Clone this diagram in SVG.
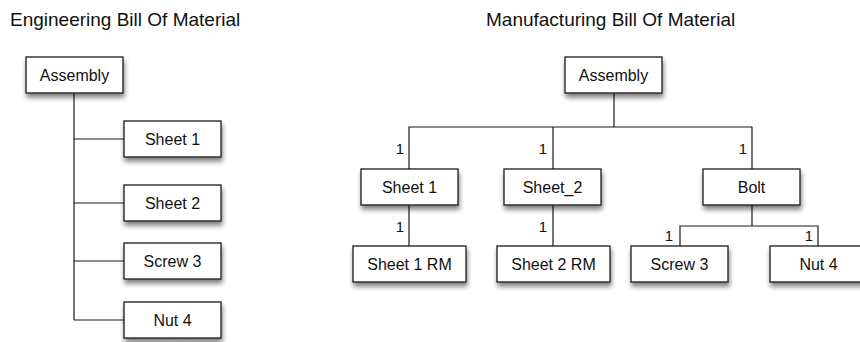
<svg xmlns="http://www.w3.org/2000/svg" width="860" height="342" viewBox="0 0 860 342">
<defs>
<filter id="sh" x="-20%" y="-30%" width="140%" height="170%">
<feGaussianBlur in="SourceAlpha" stdDeviation="2.5"/>
<feOffset dx="1" dy="4" result="b"/>
<feComponentTransfer><feFuncA type="linear" slope="0.5"/></feComponentTransfer>
<feMerge><feMergeNode/><feMergeNode in="SourceGraphic"/></feMerge>
</filter>
<style>
.box{fill:#fff;stroke:#1a1a1a;stroke-width:1.3;filter:url(#sh)}
.lbl{font-family:"Liberation Sans",Arial,sans-serif;font-size:16px;fill:#111;text-anchor:middle}
.title{font-family:"Liberation Sans",Arial,sans-serif;font-size:19px;fill:#111}
.num{font-family:"Liberation Sans",Arial,sans-serif;font-size:15px;fill:#111;text-anchor:end}
.con{fill:none;stroke:#1a1a1a;stroke-width:1.2}
</style>
</defs>
<rect width="860" height="342" fill="#fff"/>
<text class="title" x="10" y="26">Engineering Bill Of Material</text>
<text class="title" x="486" y="26">Manufacturing Bill Of Material</text>

<g id="connectors">
<path class="con" d="M74 93 V320 M74 139 H124 M74 203 H124 M74 261 H124 M74 320 H124"/>
<path class="con" d="M614 93 V127 M409 169 V127 H752 V169 M553 127 V169"/>
<path class="con" d="M409 205 V246 M553 205 V246"/>
<path class="con" d="M752 205 V226 M680 246 V226 H818 V246"/>
<text class="num" x="404" y="154">1</text>
<text class="num" x="547" y="154">1</text>
<text class="num" x="747" y="154">1</text>
<text class="num" x="404" y="232">1</text>
<text class="num" x="547" y="232">1</text>
<text class="num" x="673" y="241">1</text>
<text class="num" x="813" y="241">1</text>
</g>

<g id="e-assembly"><rect class="box" x="26" y="57" width="97" height="36"/><text class="lbl" x="74.5" y="81">Assembly</text></g>
<g id="e-sheet1"><rect class="box" x="124" y="121" width="97" height="36"/><text class="lbl" x="172.5" y="145">Sheet 1</text></g>
<g id="e-sheet2"><rect class="box" x="124" y="185" width="97" height="36"/><text class="lbl" x="172.5" y="209">Sheet 2</text></g>
<g id="e-screw3"><rect class="box" x="124" y="243" width="97" height="36"/><text class="lbl" x="172.5" y="267">Screw 3</text></g>
<g id="e-nut4"><rect class="box" x="124" y="302" width="97" height="36"/><text class="lbl" x="172.5" y="326">Nut 4</text></g>

<g id="m-assembly"><rect class="box" x="565" y="57" width="97" height="36"/><text class="lbl" x="613.5" y="81">Assembly</text></g>
<g id="m-sheet1"><rect class="box" x="361" y="169" width="97" height="36"/><text class="lbl" x="409.5" y="193">Sheet 1</text></g>
<g id="m-sheet2"><rect class="box" x="504" y="169" width="97" height="36"/><text class="lbl" x="552.5" y="193">Sheet_2</text></g>
<g id="m-bolt"><rect class="box" x="703" y="169" width="97" height="36"/><text class="lbl" x="751.5" y="193">Bolt</text></g>
<g id="m-sheet1rm"><rect class="box" x="353" y="246" width="113" height="36"/><text class="lbl" x="409.5" y="270">Sheet 1 RM</text></g>
<g id="m-sheet2rm"><rect class="box" x="497" y="246" width="113" height="36"/><text class="lbl" x="553.5" y="270">Sheet 2 RM</text></g>
<g id="m-screw3"><rect class="box" x="631" y="246" width="97" height="36"/><text class="lbl" x="679.5" y="270">Screw 3</text></g>
<g id="m-nut4"><rect class="box" x="770" y="246" width="97" height="36"/><text class="lbl" x="818.5" y="270">Nut 4</text></g>
</svg>
